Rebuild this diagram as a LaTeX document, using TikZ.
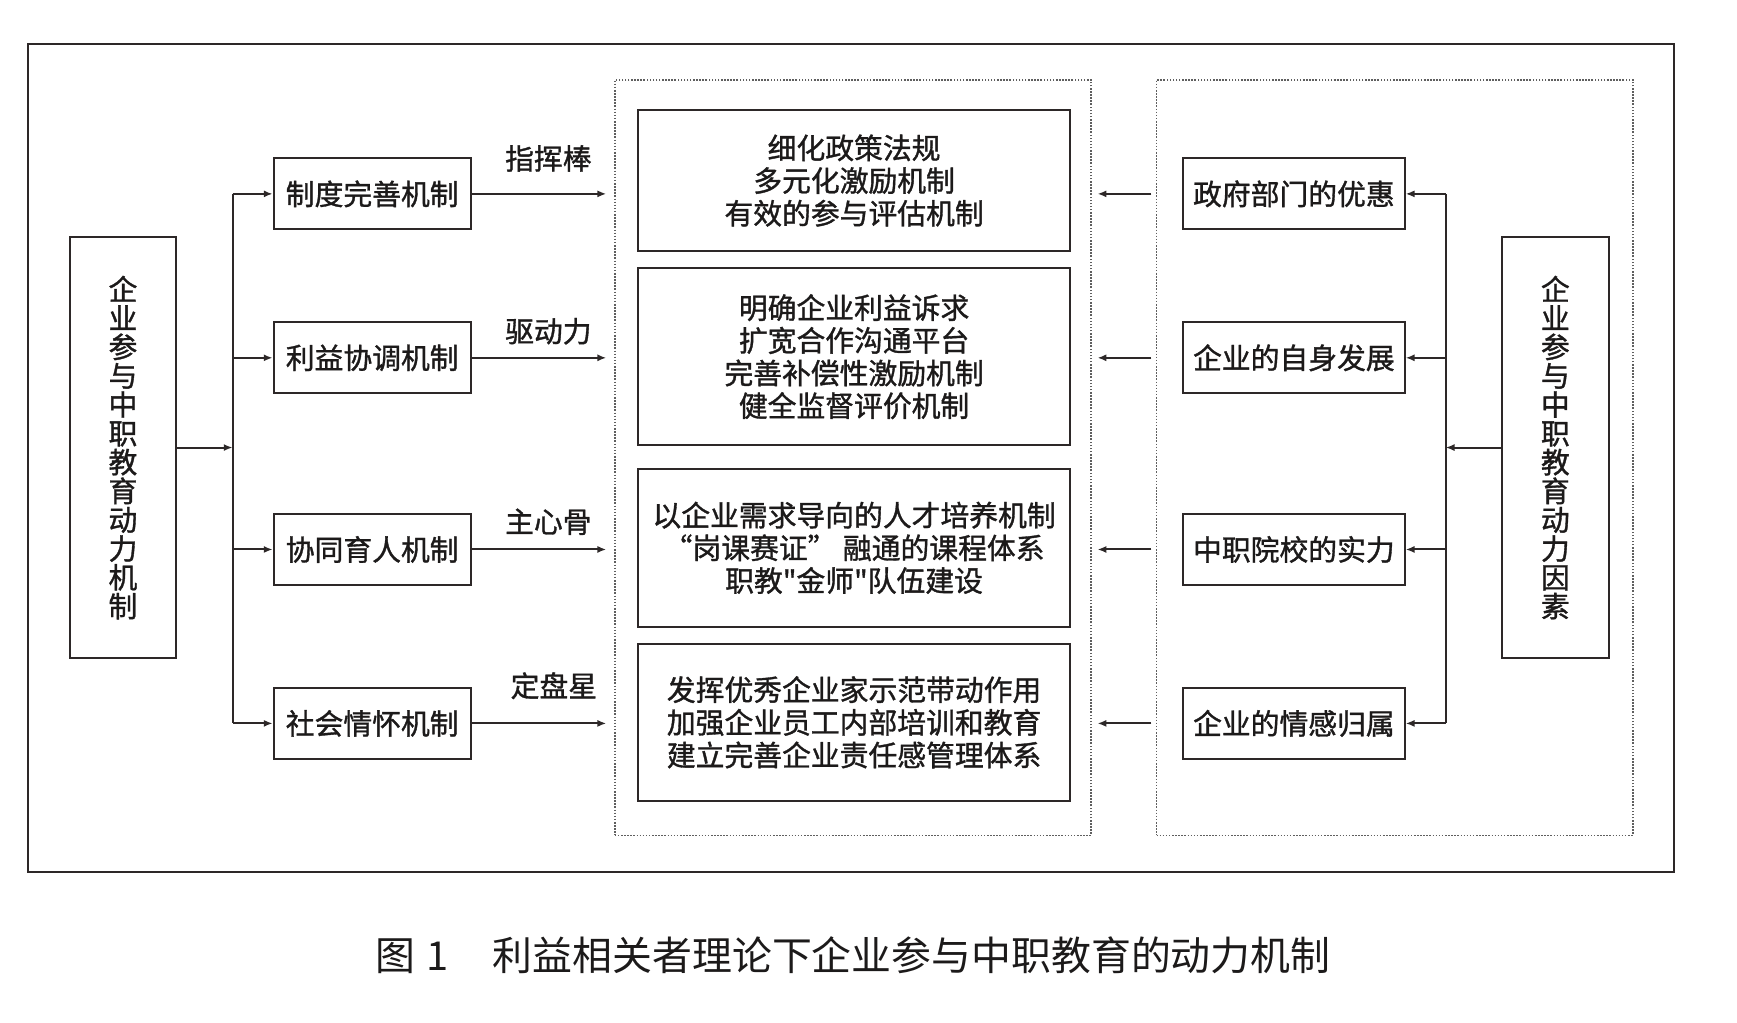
\documentclass[tikz,border=0pt]{standalone}
\usepackage{fontspec}
\setmainfont{Noto Sans CJK SC}[Ligatures=ResetAll]
\newfontfamily\boxfont{Noto Sans CJK SC}[Ligatures=ResetAll,FakeBold=1.2]
\usetikzlibrary{arrows.meta}
\definecolor{cline}{RGB}{45,40,40}
\definecolor{ctext}{RGB}{28,26,26}
\definecolor{cdot}{RGB}{95,95,95}
\tikzset{mechfig/.style={x=0.5pt,y=-0.5pt,font=\boxfont\fontsize{13}{14.75}\selectfont,text=ctext,
    >={Latex[length=4pt,width=3.2pt]}},
  box/.style={draw=cline,line width=0.9pt,inner sep=0pt,align=center},
  tallbox/.style={box,minimum width=48pt,minimum height=190pt,font=\boxfont\fontsize{13}{13}\selectfont},
  dotbox/.style={draw=cdot,line width=0.7pt,dash pattern=on 0.7pt off 0.7pt,minimum width=215pt,minimum height=341pt,inner sep=0pt},
  arr/.style={->,draw=cline,line width=0.9pt}}

\begin{document}
\begin{tikzpicture}[mechfig]
    \useasboundingbox (0,0) rectangle (1568,923);
    \draw[cline,line width=1pt] (25,40) rectangle (1511,787);
    % left side: mechanisms
    \node[tallbox] (lsrc) at (111,404) {企\\业\\参\\与\\中\\职\\教\\育\\动\\力\\机\\制};
    \coordinate (lbus) at (210,404);
    \node[dotbox] (mid) at (770,413) {};
    \node[dotbox] (rgt) at (1259,413) {};
    \foreach \i/\y/\t/\lab/\lx/\ly in {1/175/制度完善机制/指挥棒/495/143,2/323/利益协调机制/驱动力/495/299,
        3/496/协同育人机制/主心骨/495/471,4/653/社会情怀机制/定盘星/500/619}{
      \node[box,minimum width=89pt,minimum height=32pt] (m\i) at (336,\y) {\t};
      \draw[arr] (m\i.west -| lbus) -- (m\i.west);
      \draw[arr,shorten >=3.5pt] (m\i.east) -- (m\i.east -| mid.west);
      \node (l\i) at (\lx,\ly) {\lab};
    }
    \draw[cline,line width=0.9pt] (m1.west -| lbus) -- (m4.west -| lbus);
    \draw[arr] (lsrc.east) -- (lbus);
    % middle measures
    \node[box,minimum width=195pt,minimum height=64pt] (c1) at (771,163) {细化政策法规\\多元化激励机制\\有效的参与评估机制};
    \node[box,minimum width=195pt,minimum height=80pt] (c2) at (771,322) {明确企业利益诉求\\扩宽合作沟通平台\\完善补偿性激励机制\\健全监督评价机制};
    \node[box,minimum width=195pt,minimum height=71.5pt] (c3) at (771,494.5) {以企业需求导向的人才培养机制\\“岗课赛证” 融通的课程体系\\职教"金师"队伍建设};
    \node[box,minimum width=195pt,minimum height=71pt] (c4) at (771,652) {发挥优秀企业家示范带动作用\\加强企业员工内部培训和教育\\建立完善企业责任感管理体系};
    % right side: factors
    \node[tallbox] (rsrc) at (1404,404) {企\\业\\参\\与\\中\\职\\教\\育\\动\\力\\因\\素};
    \coordinate (rbus) at (1305,404);
    \foreach \i/\y/\t in {1/175/政府部门的优惠,2/323/企业的自身发展,3/496/中职院校的实力,4/653/企业的情感归属}{
      \node[box,minimum width=100pt,minimum height=32pt] (f\i) at (1168,\y) {\t};
      \draw[arr] (f\i.east -| rbus) -- (f\i.east);
      \draw[arr,shorten <=2pt,shorten >=2.5pt] (f\i.west -| rgt.west) -- (f\i.west -| mid.east);
    }
    \draw[cline,line width=0.9pt] (f1.east -| rbus) -- (f4.east -| rbus);
    \draw[arr] (rsrc.west) -- (rbus);
    \node[font=\rmfamily\fontsize{18}{20}\selectfont] (cap) at (770,862) {图\hspace{5pt}1\hspace{20pt}利益相关者理论下企业参与中职教育的动力机制};
\end{tikzpicture}
\end{document}
